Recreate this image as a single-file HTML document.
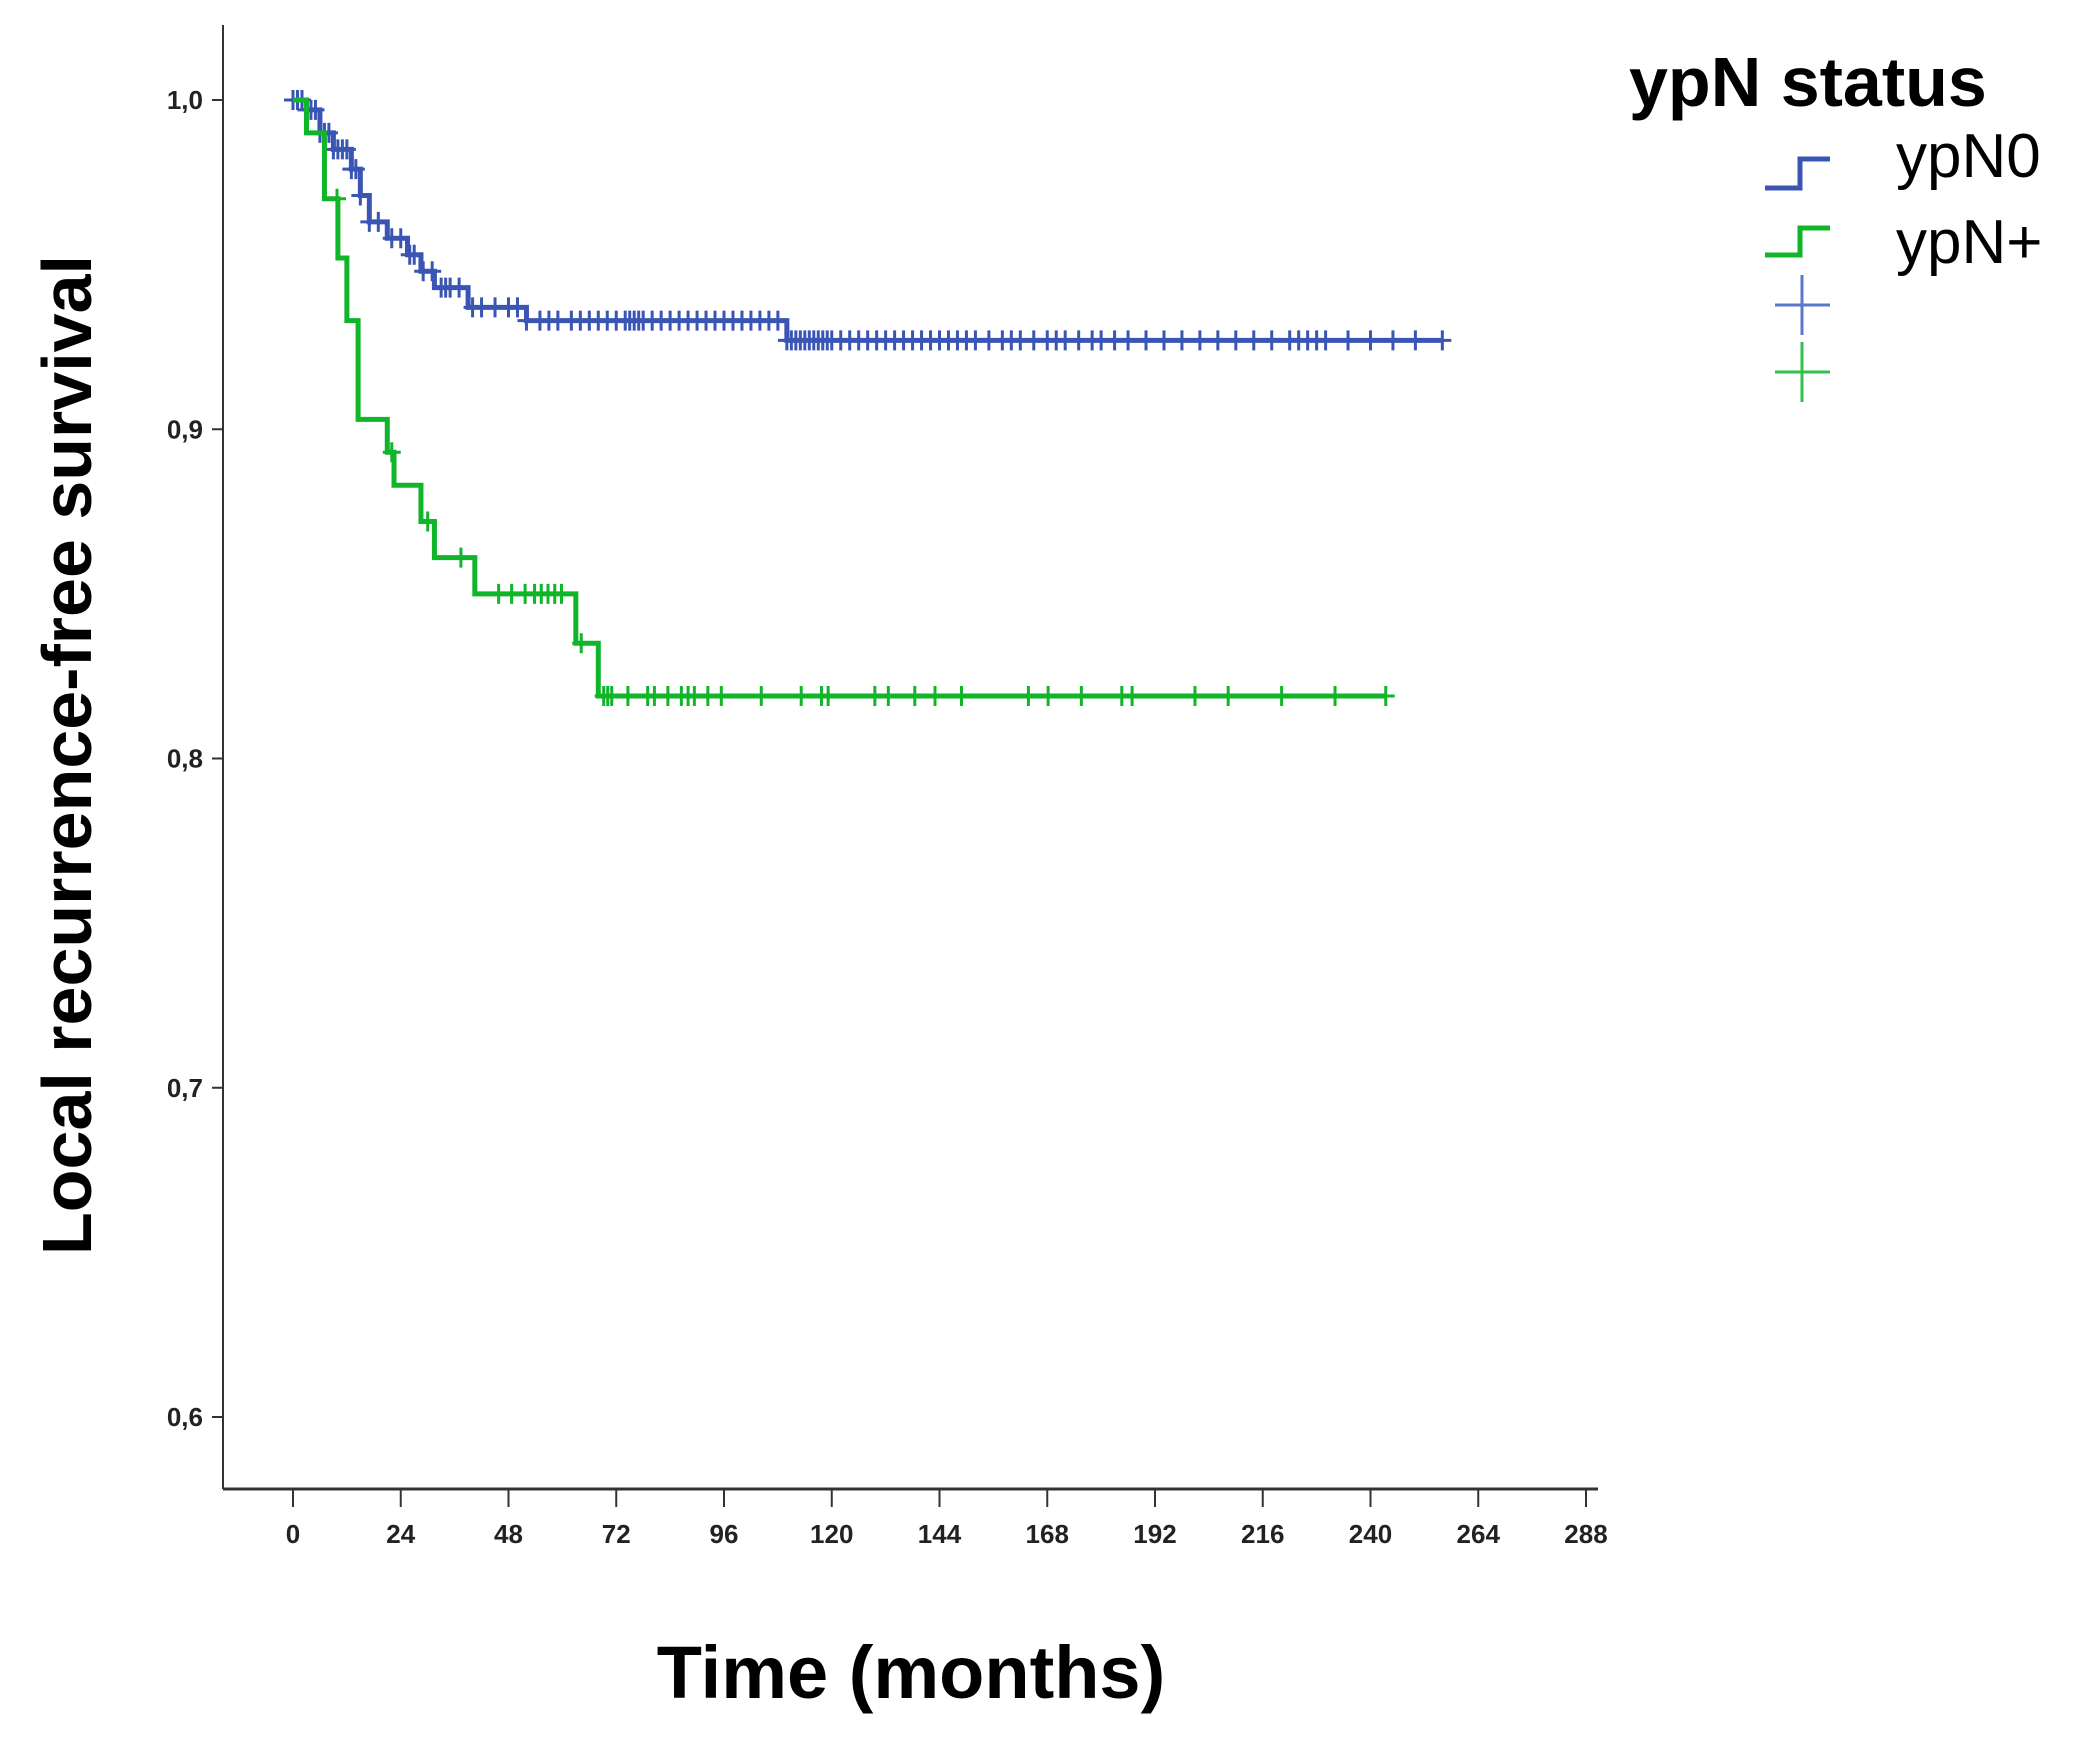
<!DOCTYPE html>
<html><head><meta charset="utf-8"><style>
html,body{margin:0;padding:0;background:#fff;}
svg{display:block;}
</style></head><body>
<svg id="chart" width="2092" height="1752" viewBox="0 0 2092 1752" xmlns="http://www.w3.org/2000/svg">
<g id="axes"></g>
<g id="series"></g>
<text x="67" y="755" transform="rotate(-90 67 755)" text-anchor="middle" dominant-baseline="central" font-family="Liberation Sans, sans-serif" font-weight="bold" font-size="70" fill="#000">Local recurrence-free survival</text>
<text x="911" y="1698" text-anchor="middle" font-family="Liberation Sans, sans-serif" font-weight="bold" font-size="74" fill="#000">Time (months)</text>
<g>
<text x="1629" y="106" font-family="Liberation Sans, sans-serif" font-weight="bold" font-size="70" fill="#000">ypN status</text>
<path d="M1765 188 H1800 V159 H1830" fill="none" stroke="#3a55b4" stroke-width="5"/>
<text x="1896" y="177" font-family="Liberation Sans, sans-serif" font-size="62" fill="#000">ypN0</text>
<path d="M1765 255 H1800 V228 H1830" fill="none" stroke="#11b52a" stroke-width="5"/>
<text x="1896" y="263" font-family="Liberation Sans, sans-serif" font-size="62" fill="#000">ypN+</text>
<path d="M1775 305 H1830 M1802 275 V335" stroke="#5b78cc" stroke-width="3"/>
<path d="M1775 372 H1830 M1802 342 V402" stroke="#33c04a" stroke-width="3"/>
</g>
</svg>
<script>
const xTicks = [0,24,48,72,96,120,144,168,192,216,240,264,288];
const yTicks = [1.0,0.9,0.8,0.7,0.6];
const yTickLabels = ["1,0","0,9","0,8","0,7","0,6"];
const ypn0Times = [0,3,6,9,13,15,17,21,25.5,28.5,31.5,39,52,110];
const ypn0Surv = [1.0,0.997,0.99,0.985,0.979,0.971,0.963,0.958,0.953,0.948,0.943,0.937,0.933,0.927];
const ypn0End = 256;
const ypn0Censor = [0,1,2,3,4,5,6,7,8,9,10,11,12,13,14,15,17,19,22,24,26,27,29,31,33,34,35,37,40,42,45,48,50,52,55,57,59,62,64,66,68,70,72,74,75,76,77,78,80,82,84,86,88,90,92,94,96,98,100,102,104,106,108,110,111,112,113,114,115,116,117,118,119,120,122,124,126,128,130,132,134,136,138,140,142,144,146,148,150,152,155,158,160,162,165,168,170,172,175,178,180,183,186,190,194,198,202,206,210,214,218,222,224,226,228,230,235,240,245,250,256];
const ypnpTimes = [0,3,7,10,12,14.5,21,22.5,28.5,31.5,40.5,63,68];
const ypnpSurv = [1.0,0.99,0.97,0.952,0.933,0.903,0.893,0.883,0.872,0.861,0.85,0.835,0.819];
const ypnpEnd = 243.5;
const ypnpCensor = [9.8,22,30,37.4,45.8,48.7,51.7,53.8,55.3,56.8,58.3,59.8,64.2,69.2,70.1,71,74.6,79,80.5,83.5,86.5,88,89.4,92.4,95.4,104.3,113.2,117.7,119.2,129.6,132.6,138.5,143,148.9,163.8,168.2,175.6,184.6,186.9,200.9,208.3,220.2,232.1,243.4];

const NS="http://www.w3.org/2000/svg";
const X0=293, X1=1586, Y10=100, Y06=1417;
function sx(t){return X0+(X1-X0)*t/288;}
function sy(v){return Y10+(Y06-Y10)*(1-v)/0.4;}
function mk(tag,attrs,parent){const e=document.createElementNS(NS,tag);for(const k in attrs)e.setAttribute(k,attrs[k]);parent.appendChild(e);return e;}
const axes=document.getElementById('axes'), series=document.getElementById('series');
let a=mk('line',{x1:223,y1:25,x2:223,y2:1489,stroke:'#333','stroke-width':2},axes);


a=mk('line',{x1:223,y1:1489,x2:1598,y2:1489,stroke:'#333','stroke-width':3},axes);


xTicks.forEach(t=>{
  const l=mk('line',{x1:sx(t),y1:1489,x2:sx(t),y2:1507,stroke:'#333','stroke-width':2},axes);
  
  
  const tx=mk('text',{x:sx(t),y:1543,'text-anchor':'middle','font-family':'Liberation Sans Narrow, Liberation Sans, sans-serif','font-weight':'bold','font-size':26,fill:'#222'},axes);
  tx.textContent=t;
  
  
});
yTicks.forEach((v,i)=>{
  const l=mk('line',{x1:212,y1:sy(v),x2:223,y2:sy(v),stroke:'#333','stroke-width':2},axes);
  
  
  const tx=mk('text',{x:203,y:sy(v)+9,'text-anchor':'end','font-family':'Liberation Sans Narrow, Liberation Sans, sans-serif','font-weight':'bold','font-size':26,fill:'#222'},axes);
  tx.textContent=yTickLabels[i];
  
  
});
function survAt(times,surv,t){let v=surv[0];for(let i=0;i<times.length;i++){if(times[i]<=t)v=surv[i];}return v;}
function drawSeries(times,surv,end,cens,color,name){
  let d='M'+sx(times[0])+' '+sy(surv[0]);
  for(let i=1;i<times.length;i++){d+=' H'+sx(times[i])+' V'+sy(surv[i]);}
  d+=' H'+sx(end);
  const p=mk('path',{d:d,fill:'none',stroke:color,'stroke-width':5},series);
  
  
  cens.forEach(t=>{
    const x=sx(t), y=sy(survAt(times,surv,t));
    const c=mk('path',{d:'M'+(x-9)+' '+y+' H'+(x+9)+' M'+x+' '+(y-10)+' V'+(y+10),stroke:color,'stroke-width':3},series);
    
    
  });
}
drawSeries(ypn0Times,ypn0Surv,ypn0End,ypn0Censor,'#3a55b4','ypn0');
drawSeries(ypnpTimes,ypnpSurv,ypnpEnd,ypnpCensor,'#11b52a','ypnplus');
</script>
</body></html>
